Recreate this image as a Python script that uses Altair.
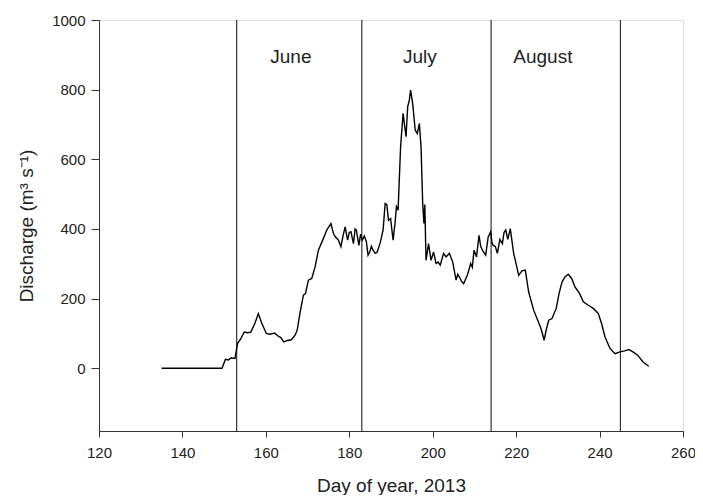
import altair as alt
import pandas as pd

days = [135, 140, 145, 149.5, 150.3, 151.0, 151.7, 152.6, 153.2, 154.0, 154.8, 155.6, 156.4, 157.4, 158.2,
        159.0, 160.1, 161.0, 162.1, 163.0, 163.6, 164.3, 165.2, 166.1, 167.0, 167.5, 168.2, 169.0, 169.5,
        170.2, 171.0, 171.8, 172.6, 173.8, 174.6, 175.6, 176.2, 176.7, 177.4, 178.0, 178.5, 179.0, 179.6,
        180.0, 180.4, 181.0, 181.4, 181.7, 182.3, 182.7, 183.1, 183.6, 184.1, 184.5, 184.9, 185.3, 185.7,
        186.2, 186.7, 187.4, 188.1, 188.6, 189.0, 189.4, 189.9, 190.5, 191.0, 191.3, 191.7, 192.3, 192.9,
        193.2, 193.6, 194.0, 194.4, 194.7, 195.2, 195.8, 196.3, 196.8, 197.2, 197.6, 197.9, 198.1, 198.4,
        199.0, 199.6, 200.2, 200.8, 201.3, 201.8, 202.6, 203.2, 204.0, 204.8, 205.6, 206.0, 206.4, 206.9,
        207.4, 208.3, 209.1, 209.5, 209.9, 210.5, 211.1, 211.5, 211.9, 212.7, 213.3, 213.9, 214.2, 214.5,
        215.0, 215.5, 216.1, 216.7, 217.1, 217.5, 218.0, 218.6, 219.4, 220.0, 220.6, 221.4, 222.2, 223.0,
        224.2, 225.0, 225.8, 226.3, 226.7, 227.2, 227.8, 228.6, 229.6, 230.3, 231.0, 231.7, 232.5, 233.3,
        234.1, 235.2, 236.1, 237.3, 238.5, 239.7, 240.5, 241.3, 242.5, 243.7, 244.9, 246.0, 247.0, 248.0,
        249.2, 250.4, 251.8]
discharge = [0, 0, 0, 0, 26, 24, 30, 28, 71, 85, 104, 102, 104, 130, 157,
             130, 100, 98, 101, 92, 88, 76, 80, 82, 95, 109, 160, 210, 215,
             253, 258, 291, 339, 373, 397, 416, 387, 377, 368, 349, 380, 406, 368,
             390, 392, 358, 400, 397, 353, 385, 368, 380, 363, 325, 334, 350, 339,
             330, 334, 360, 397, 473, 470, 425, 430, 368, 420, 464, 454, 636, 732,
             703, 665, 751, 770, 799, 760, 684, 674, 703, 636, 473, 416, 470, 310,
             358, 310, 334, 301, 305, 296, 330, 320, 330, 305, 253, 270, 262, 250,
             243, 267, 301, 290, 339, 320, 382, 350, 339, 325, 377, 392, 360, 353,
             350, 330, 370, 358, 390, 397, 370, 401, 330, 300, 267, 280, 282, 219,
             167, 143, 119, 100, 80, 110, 138, 143, 172, 215, 248, 262, 270, 258,
             234, 215, 191, 181, 172, 157, 128, 90, 57, 42, 47, 50, 54, 47,
             37, 18, 6]

month_starts = [153, 183, 214, 245]
month_names = ["June", "July", "August"]
label_days = [166, 196.9, 226.4]
label_values = [894, 894, 894]

df = pd.DataFrame({"day": days, "q": discharge})
rules_df = pd.DataFrame({"day": month_starts})
labels_df = pd.DataFrame({"day": label_days, "q": label_values, "name": month_names})

xscale = alt.Scale(domain=[120, 260], nice=False, zero=False)
yscale = alt.Scale(domain=[-180, 1000], nice=False, zero=False)

axis_common = dict(
    labelFont="Liberation Sans", titleFont="Liberation Sans",
    labelFontSize=15, titleFontSize=19, labelColor="#222", titleColor="#222",
    titleFontWeight="normal", domainColor="#333", tickColor="#333",
    grid=False, labelFlush=False, format="d",
)

line = alt.Chart(df).mark_line(color="black", strokeWidth=1.4).encode(
    x=alt.X("day:Q", scale=xscale,
            axis=alt.Axis(title="Day of year, 2013", values=list(range(120, 261, 20)),
                          tickSize=6, labelPadding=8, titlePadding=16, **axis_common)),
    y=alt.Y("q:Q", scale=yscale,
            axis=alt.Axis(title="Discharge (m³ s⁻¹)", values=list(range(0, 1001, 200)),
                          tickSize=8, labelPadding=6, titlePadding=15, **axis_common)),
)

rules = alt.Chart(rules_df).mark_rule(color="#333", strokeWidth=1.2).encode(
    x=alt.X("day:Q", scale=xscale)
)

labels = alt.Chart(labels_df).mark_text(
    font="Liberation Sans", fontSize=19, color="#222", baseline="middle", align="center"
).encode(
    x=alt.X("day:Q", scale=xscale),
    y=alt.Y("q:Q", scale=yscale),
    text="name:N",
)

chart = alt.layer(rules, line, labels).properties(
    width=584, height=411,
    padding={"left": 91, "top": 12, "right": 12, "bottom": 64},
    autosize=alt.AutoSizeParams(type="none"),
).configure_view(stroke="#333", strokeWidth=1.2).configure(background="white")

chart.save("out.html", embed_options={"renderer": "svg", "actions": False})
